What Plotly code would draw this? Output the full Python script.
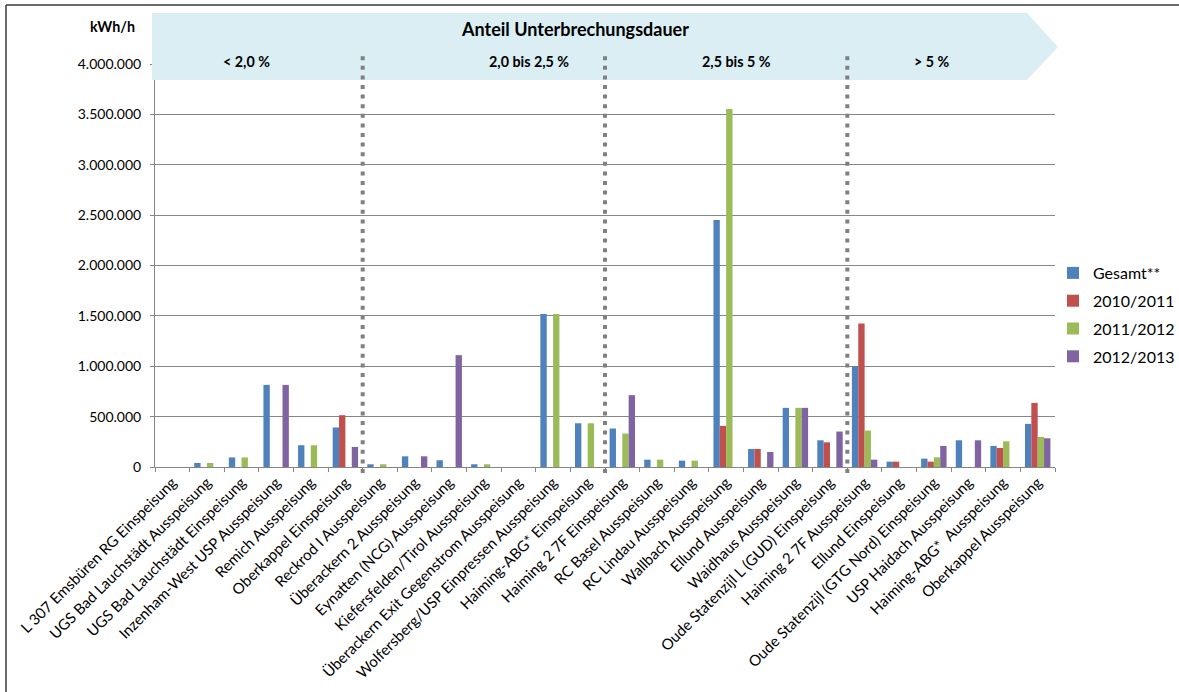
import plotly.graph_objects as go

# Entry/exit points (x categories)
categories = [
    "L 307 Emsbüren RG Einspeisung",
    "UGS Bad Lauchstädt Ausspeisung",
    "UGS Bad Lauchstädt Einspeisung",
    "Inzenham-West USP Ausspeisung",
    "Remich Ausspeisung",
    "Oberkappel Einspeisung",
    "Reckrod I Ausspeisung",
    "Überackern 2 Ausspeisung",
    "Eynatten (NCG) Ausspeisung",
    "Kiefersfelden/Tirol Ausspeisung",
    "Überackern Exit Gegenstrom Ausspeisung",
    "Wolfersberg/USP Einpressen Ausspeisung",
    "Haiming-ABG* Einspeisung",
    "Haiming 2 7F Einspeisung",
    "RC Basel Ausspeisung",
    "RC Lindau Ausspeisung",
    "Wallbach Ausspeisung",
    "Ellund Ausspeisung",
    "Waidhaus Ausspeisung",
    "Oude Statenzijl L (GUD) Einspeisung",
    "Haiming 2 7F Ausspeisung",
    "Ellund Einspeisung",
    "Oude Statenzijl (GTG Nord) Einspeisung",
    "USP Haidach Ausspeisung",
    "Haiming-ABG*  Ausspeisung",
    "Oberkappel Ausspeisung",
]

# kWh/h per series (None = no value)
gesamt = [None, 40000, 95000, 815000, 216000, 392000, 27000, 106000, 67000, 27000,
          None, 1518000, 434000, 382000, 73000, 63000, 2452000, 179000, 587000, 265000,
          998000, 53000, 83000, 265000, 209000, 428000]
y2010_2011 = [None, None, None, None, None, 514000, None, None, None, None,
              None, None, None, None, None, None, 408000, 179000, None, 245000,
              1425000, 53000, 53000, None, 189000, 636000]
y2011_2012 = [None, 40000, 95000, None, 216000, None, 27000, None, None, 27000,
              None, 1518000, 434000, 332000, 73000, 63000, 3553000, None, 587000, None,
              362000, None, 96000, None, 255000, 298000]
y2012_2013 = [None, None, None, 815000, None, 199000, None, 106000, 1110000, None,
              None, None, None, 713000, None, None, None, 149000, 587000, 352000,
              73000, None, 209000, 265000, None, 285000]

series_names = ["Gesamt**", "2010/2011", "2011/2012", "2012/2013"]
series_values = [gesamt, y2010_2011, y2011_2012, y2012_2013]
series_colors = ["#4F81BD", "#C0504D", "#9BBB59", "#8064A2"]

# Interruption-share groups: label and last category of each group
group_labels = ["< 2,0 %", "2,0 bis 2,5 %", "2,5 bis 5 %", "> 5 %"]
group_last = ["Oberkappel Einspeisung", "Haiming-ABG* Einspeisung",
              "Oude Statenzijl L (GUD) Einspeisung"]

y_ticks = [0, 500000, 1000000, 1500000, 2000000, 2500000, 3000000, 3500000, 4000000]

W, H = 1179, 692
L, R, T, B = 155, 124, 64, 225
PW, PH = W - L - R, H - T - B
FONT = "Lato, 'Open Sans', sans-serif"


def px_x(px):
    return (px - L) / PW


def px_y(py):
    return (H - B - py) / PH


fig = go.Figure()
for name, vals, col in zip(series_names, series_values, series_colors):
    fig.add_trace(go.Bar(
        x=categories, y=vals, name=name, legendgroup=name,
        marker=dict(color=col, line=dict(width=0)),
    ))

shapes = []
# banner arrow across the top
banner = [(152, 13), (1027, 13), (1058, 47), (1027, 80), (152, 80)]
path = "M " + " L ".join(f"{px_x(a):.5f},{px_y(b):.5f}" for a, b in banner) + " Z"
shapes.append(dict(type="path", xref="paper", yref="paper", path=path,
                   fillcolor="#DAEEF3", line=dict(width=0), layer="above"))
# dotted dividers between groups
for last in group_last:
    xi = categories.index(last) + 0.5
    shapes.append(dict(type="line", xref="x", yref="paper", x0=xi, x1=xi,
                       y0=px_y(473), y1=px_y(52),
                       line=dict(color="#808080", width=4, dash="4px,5.6px"),
                       layer="above"))
# outer frame (top and left)
shapes.append(dict(type="line", xref="paper", yref="paper",
                   x0=px_x(6), x1=px_x(W), y0=px_y(5), y1=px_y(5),
                   line=dict(color="#3A3A3A", width=1.5)))
shapes.append(dict(type="line", xref="paper", yref="paper",
                   x0=px_x(6), x1=px_x(6), y0=px_y(5), y1=px_y(H),
                   line=dict(color="#3A3A3A", width=1.5)))

annotations = [
    dict(text="<b>Anteil Unterbrechungsdauer</b>", x=px_x(574.5), y=px_y(29),
         font=dict(size=18, color="#000000")),
    dict(text="<b>kWh/h</b>", x=px_x(112.5), y=px_y(27),
         font=dict(size=14.3, color="#000000")),
]
for lab, cx in zip(group_labels, [246, 529, 736, 932]):
    annotations.append(dict(text=f"<b>{lab}</b>", x=px_x(cx), y=px_y(61),
                            font=dict(size=14.3, color="#000000")))
for a in annotations:
    a.update(xref="paper", yref="paper", showarrow=False,
             xanchor="center", yanchor="middle")

fig.update_layout(
    width=W, height=H,
    margin=dict(l=L, r=R, t=T, b=B, pad=0, autoexpand=False),
    paper_bgcolor="white", plot_bgcolor="white",
    font=dict(family=FONT, size=13, color="#000000"),
    separators=",.",
    barmode="group", bargap=0.266, bargroupgap=0,
    showlegend=True,
    legend=dict(xref="container", yref="container",
                x=1053 / W, y=1 - 256 / H, xanchor="left", yanchor="top",
                font=dict(size=16), tracegroupgap=4, bgcolor="rgba(0,0,0,0)"),
    shapes=shapes, annotations=annotations,
)
fig.update_xaxes(
    type="category", tickangle=-45, tickson="boundaries", automargin=False,
    ticks="outside", ticklen=4, tickcolor="#868686",
    showline=True, linecolor="#868686", linewidth=1,
    showgrid=False, tickfont=dict(size=15),
)
fig.update_yaxes(
    range=[0, 4000000], tickvals=y_ticks, tickformat=",d", automargin=False,
    ticks="outside", ticklen=4, tickcolor="#868686", ticklabelstandoff=6,
    showline=True, linecolor="#868686", linewidth=1,
    showgrid=True, gridcolor="#868686", gridwidth=1,
    zeroline=False, tickfont=dict(size=14),
)

fig.write_html("out.html")
